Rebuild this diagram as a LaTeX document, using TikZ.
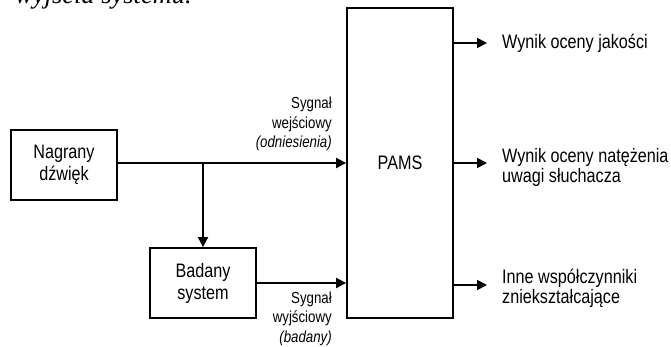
\documentclass[tikz,border=0pt]{standalone}
\usepackage{fontspec}
\setmainfont{Liberation Sans}[FakeStretch=0.83]
\newfontfamily\serifit{Liberation Serif}
\usetikzlibrary{arrows.meta}
\begin{document}
\begin{tikzpicture}[x=1pt,y=-1pt,
 box/.style={draw, line width=1.8pt, inner sep=0pt, align=center, font=\fontsize{19.5}{22}\selectfont},
 conn/.style={line width=1.8pt, -{Triangle[length=10pt,width=10pt]}},
 lbl/.style={inner sep=0pt, align=right, anchor=base east, font=\fontsize{16}{19.5}\selectfont},
 outl/.style={inner sep=0pt, align=left, anchor=base west, font=\fontsize{19.5}{20}\selectfont}]
\useasboundingbox (0,0) rectangle (671,347);
\node[box, minimum width=106pt, minimum height=70pt] (rec) at (64,165) {Nagrany\\dźwięk};
\node[box, minimum width=106pt, minimum height=70pt] (sys) at (203,283) {Badany\\system};
\node[box, minimum width=106pt, minimum height=310pt] (pams) at (400,163) {PAMS};
\coordinate (o1) at (487,43);
\coordinate (o2) at (487,163);
\coordinate (o3) at (487,285);
\draw[conn] (pams.east |- o1) -- (o1);
\draw[conn] (pams.east |- o2) -- (o2);
\draw[conn] (pams.east |- o3) -- (o3);
\coordinate (in1) at (rec.east |- o2);
\draw[conn] (in1) -- (pams.west |- in1);
\coordinate (br) at (sys.north |- in1);
\draw[conn] (br) -- (sys.north);
\draw[conn] (sys.east) -- (pams.west |- sys.east);
\node[lbl] (l1) at (332,148) {Sygnał\\wejściowy\\\textit{(odniesienia)}};
\node[lbl] (l2) at (332,342) {Sygnał\\wyjściowy\\\textit{(badany)}};
\node[outl] (t1) at (502,49) {Wynik oceny jakości};
\node[outl] (t2) at (502,183) {Wynik oceny natężenia\\uwagi słuchacza};
\node[outl] (t3) at (502,303) {Inne współczynniki\\zniekształcające};
\node[anchor=base west, inner sep=0pt, font=\serifit\itshape\fontsize{26.5}{26.5}\selectfont] (top) at (15,4) {wyjścia systemu.};
\end{tikzpicture}
\end{document}
